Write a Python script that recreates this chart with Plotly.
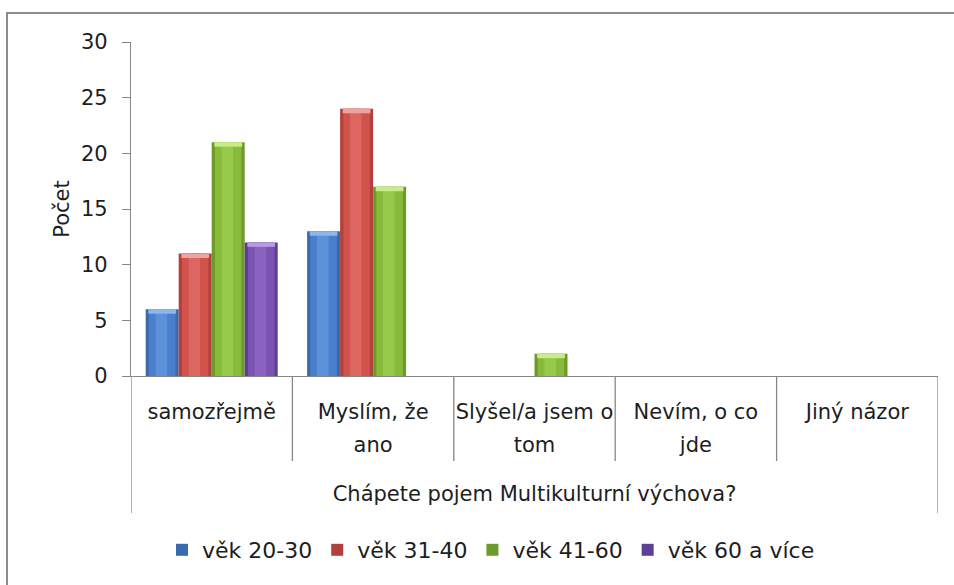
import plotly.graph_objects as go

# --- data -------------------------------------------------------------
categories = ["samozřejmě", "Myslím, že ano", "Slyšel/a jsem o tom",
              "Nevím, o co jde", "Jiný názor"]
label_line1 = ["samozřejmě", "Myslím, že", "Slyšel/a jsem o", "Nevím, o co", "Jiný názor"]
label_line2 = ["", "ano", "tom", "jde", ""]

series_names = ["věk 20-30", "věk 31-40", "věk 41-60", "věk 60 a více"]
vek_20_30 = [6, 13, 0, 0, 0]
vek_31_40 = [11, 24, 0, 0, 0]
vek_41_60 = [21, 17, 2, 0, 0]
vek_60_vice = [12, 0, 0, 0, 0]
series_values = [vek_20_30, vek_31_40, vek_41_60, vek_60_vice]

y_ticks = [0, 5, 10, 15, 20, 25, 30]
x_title = "Chápete pojem Multikulturní výchova?"
y_title = "Počet"

# --- styling ----------------------------------------------------------
W, H = 954, 585
L, R, T, B = 131, 16, 42, 209
PW, PH = W - L - R, H - T - B
FONT = "DejaVu Sans"
FS = 21
TXT = "#1e1e1e"
AXC = "#878787"

# cylinder-like shading: edge tone, body tone, highlight tone, cap tone
palettes = [
    ("#3b69ad", "#4a80cb", "#5d92da", "#8db8ee"),
    ("#b0413c", "#d2524c", "#dc6660", "#f0a39e"),
    ("#6e9a2c", "#88bb3a", "#97c94a", "#c8ec8a"),
    ("#5f3f93", "#7b53b2", "#8a63c0", "#b79ae0"),
]

slot = 0.2045          # width of one bar in category units
start = -2 * slot      # left edge of the first bar in each group
cap_h = 0.4            # height of the lighter top cap, in data units


def px_x(px):
    return (px - L) / PW


def px_y(py):
    return (H - B - py) / PH


fig = go.Figure()

for k, (name, vals) in enumerate(zip(series_names, series_values)):
    edge, body, hi, cap = palettes[k]
    off = start + k * slot
    fig.add_trace(go.Bar(
        x=categories, y=vals, name=name,
        offset=off, width=slot,
        marker=dict(color=edge, line=dict(width=0)),
        xaxis="x", yaxis="y",
    ))
    # lighter inner bands give the rounded look
    for frac_off, frac_w, col in [(0.1, 0.8, body), (0.3, 0.35, hi)]:
        fig.add_trace(go.Bar(
            x=categories, y=vals, showlegend=False, hoverinfo="skip",
            offset=off + frac_off * slot, width=frac_w * slot,
            marker=dict(color=col, line=dict(width=0)),
            xaxis="x", yaxis="y",
        ))
    # light top face of each cylinder
    caps = [cap_h if v > 0 else 0 for v in vals]
    bases = [v - c for v, c in zip(vals, caps)]
    fig.add_trace(go.Bar(
        x=categories, y=caps, base=bases, showlegend=False, hoverinfo="skip",
        offset=off + 0.08 * slot, width=0.84 * slot,
        marker=dict(color=cap, line=dict(width=0)),
        xaxis="x", yaxis="y",
    ))

# carrier for the second row of category labels
fig.add_trace(go.Scatter(
    x=list(range(len(categories))), y=[0] * len(categories),
    mode="markers", marker=dict(opacity=0), showlegend=False, hoverinfo="skip",
    xaxis="x2", yaxis="y",
))

shapes = []
# category dividers below the axis
for i in range(1, len(categories)):
    shapes.append(dict(type="line", xref="x", yref="paper",
                       x0=i - 0.5, x1=i - 0.5, y0=0, y1=px_y(461),
                       line=dict(color=AXC, width=1.3)))
# outer edges spanning both label rows
for xe in (-0.5, len(categories) - 0.5):
    shapes.append(dict(type="line", xref="x", yref="paper",
                       x0=xe, x1=xe, y0=0, y1=px_y(513),
                       line=dict(color=AXC, width=1.3)))
# chart frame (left and top edges)
shapes.append(dict(type="path", xref="paper", yref="paper",
                   path=f"M {px_x(7)},{px_y(600)} L {px_x(7)},{px_y(13)} L {px_x(970)},{px_y(13)}",
                   line=dict(color="#8c8c8c", width=2)))

fig.update_layout(
    width=W, height=H,
    margin=dict(l=L, r=R, t=T, b=B, autoexpand=False),
    paper_bgcolor="white", plot_bgcolor="white",
    barmode="overlay",
    font=dict(family=FONT, size=FS, color=TXT),
    showlegend=True,
    legend=dict(orientation="h", x=px_x(491), xanchor="center",
                y=px_y(550), yanchor="middle",
                font=dict(family=FONT, size=22, color=TXT),
                itemwidth=30, tracegroupgap=0),
    xaxis=dict(
        type="category", range=[-0.5, len(categories) - 0.5],
        tickmode="array", tickvals=categories, ticktext=label_line1,
        ticks="", showline=True, linecolor=AXC, linewidth=1.3,
        showgrid=False, zeroline=False, ticklabelstandoff=17,
        tickfont=dict(family=FONT, size=FS, color=TXT),
        title=dict(text=x_title, standoff=62,
                   font=dict(family=FONT, size=FS, color=TXT)),
        fixedrange=True,
    ),
    xaxis2=dict(
        overlaying="x", anchor="y", side="bottom", type="linear",
        range=[-0.5, len(categories) - 0.5],
        tickmode="array", tickvals=list(range(len(categories))), ticktext=label_line2,
        ticks="", showline=False, showgrid=False, zeroline=False,
        ticklabelstandoff=54,
        tickfont=dict(family=FONT, size=FS, color=TXT),
    ),
    yaxis=dict(
        range=[0, 30], tickmode="array", tickvals=y_ticks,
        ticks="outside", ticklen=8, tickcolor=AXC, tickwidth=1.3,
        showline=True, linecolor=AXC, linewidth=1.3,
        showgrid=False, zeroline=False, ticklabelstandoff=10,
        tickfont=dict(family=FONT, size=FS, color=TXT),
        title=dict(text=y_title, standoff=5,
                   font=dict(family=FONT, size=FS, color=TXT)),
    ),
    shapes=shapes,
)

fig.write_html("out.html")
